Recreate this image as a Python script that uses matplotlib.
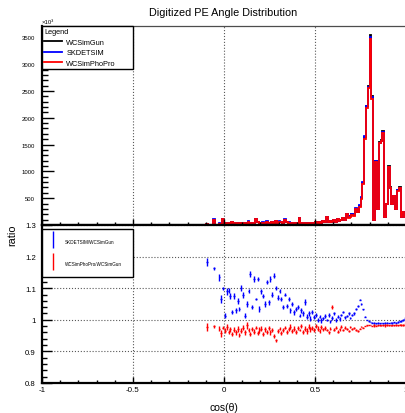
import numpy as np
import matplotlib.pyplot as plt
from matplotlib.ticker import MultipleLocator, FormatStrFormatter
from matplotlib.container import ErrorbarContainer
from matplotlib.legend_handler import HandlerErrorbar

plt.rcParams['font.family'] = ['Liberation Sans', 'DejaVu Sans']

nan = np.nan

# cos(theta) bins of 0.01 from -0.1 to 1.0 (everything below -0.1 is empty)
bin_lo = -0.1
bin_w = 0.01

# WCSimGun counts per bin (x10^3)
gun_counts = [
    15, 0, 0, 0, 90, 0, 0, 25, 15, 110,
    30, 20, 40, 25, 50, 30, 35, 20, 45, 30,
    25, 30, 20, 60, 35, 40, 30, 110, 50, 25,
    35, 45, 30, 60, 40, 30, 50, 45, 70, 40,
    60, 50, 40, 100, 55, 45, 35, 40, 30, 45,
    40, 130, 35, 40, 30, 25, 35, 30, 40, 45,
    50, 40, 60, 45, 80, 50, 150, 60, 70, 55,
    90, 60, 110, 70, 100, 130, 90, 205, 140, 160,
    200, 180, 300, 250, 350, 500, 780, 1640, 2220, 2594,
    3535, 2400, 100, 1200, 300, 1550, 1590, 1750, 150, 400,
    1100, 700, 400, 550, 300, 650, 700, 150, 250, 150,
]

# SKDETSIM / WCSimGun
ratio_sk = [
    1.182, nan, nan, nan, 1.163, nan, nan, 1.134, 1.066, 1.10,
    1.013, 1.09, 1.092, 1.076, 1.024, 1.076, 1.03, 1.06, 1.035, 1.10,
    1.08, 1.013, 1.05, 1.09, 1.145, 1.04, 1.13, 1.066, 1.13, 1.035,
    1.09, 1.076, 1.05, 1.12, 1.055, 1.13, 1.08, 1.14, 1.10, 1.07,
    1.09, 1.066, 1.04, 1.08, 1.045, 1.066, 1.03, 1.05, 1.024, 1.035,
    1.04, 1.013, 1.03, 1.02, 1.056, 1.01, 1.02, 1.003, 1.025, 1.01,
    1.015, 1.0, 1.01, 0.998, 1.005, 1.012, 1.0, 1.015, 0.995, 1.005,
    1.02, 1.0, 1.01, 1.003, 1.015, 1.025, 1.008, 1.012, 1.02, 1.005,
    1.015, 1.02, 1.034, 1.045, 1.064, 1.05, 1.034, 1.01, 1.0, 0.995,
    0.993, 0.991, 0.99, 0.989, 0.99, 0.989, 0.99, 0.989, 0.99, 0.991,
    0.99, 0.991, 0.99, 0.992, 0.991, 0.993, 0.995, 0.997, 1.0, 1.004,
]

# WCSimPhoPro / WCSimGun
ratio_pp = [
    0.977, nan, nan, nan, 0.98, nan, nan, 0.972, 0.958, 0.975,
    0.965, 0.978, 0.962, 0.97, 0.955, 0.968, 0.96, 0.972, 0.952, 0.965,
    0.975, 0.96, 0.982, 0.968, 0.955, 0.97, 0.962, 0.975, 0.958, 0.968,
    0.972, 0.955, 0.97, 0.962, 0.975, 0.96, 0.968, 0.95, 0.935, 0.965,
    0.972, 0.958, 0.968, 0.975, 0.962, 0.97, 0.978, 0.965, 0.972, 0.96,
    0.975, 0.968, 0.98, 0.962, 0.972, 0.965, 0.978, 0.97, 0.975, 0.968,
    0.98, 0.972, 0.965, 0.978, 0.97, 0.975, 0.968, 0.96, 0.972, 1.04,
    0.968, 0.975, 0.962, 0.97, 0.978, 0.968, 0.975, 0.972, 0.965, 0.978,
    0.97, 0.975, 0.968, 0.965, 0.972, 0.978, 0.975, 0.98, 0.982, 0.983,
    0.983, 0.98, 0.982, 0.981, 0.982, 0.983, 0.982, 0.983, 0.982, 0.983,
    0.982, 0.983, 0.982, 0.983, 0.984, 0.983, 0.984, 0.983, 0.984, 0.985,
]

gun = np.array(gun_counts, dtype=float)
r_sk = np.array(ratio_sk)
r_pp = np.array(ratio_pp)
edges = bin_lo + bin_w * np.arange(len(gun) + 1)
centers = edges[:-1] + bin_w / 2

sk = np.where(gun > 0, gun * np.nan_to_num(r_sk), 0)
pp = np.where(gun > 0, gun * np.nan_to_num(r_pp), 0)

# poisson errors on the ratios (counts are in thousands)
with np.errstate(divide='ignore', invalid='ignore'):
    err_sk = r_sk * np.sqrt(1 / (gun * 1e3) + 1 / (sk * 1e3))
    err_pp = r_pp * np.sqrt(1 / (gun * 1e3) + 1 / (pp * 1e3))

fig = plt.figure(figsize=(4.05, 4.14), dpi=100)
ax1 = fig.add_axes([42 / 405, 188 / 414, 364 / 405, 199 / 414])
ax2 = fig.add_axes([42 / 405, 30 / 414, 364 / 405, 158 / 414])

# top: histograms
ax1.stairs(gun, edges, color='black', lw=1.3, label='WCSimGun')
ax1.stairs(sk, edges, color='blue', lw=1.3, label='SKDETSIM')
ax1.stairs(pp, edges, color='red', lw=1.3, label='WCSimPhoPro')
ax1.set_xlim(-1, 1)
ax1.set_ylim(0, gun.max() * 1.05)
ax1.xaxis.set_major_locator(MultipleLocator(0.5))
ax1.xaxis.set_minor_locator(MultipleLocator(0.1))
ax1.set_yticks(range(500, 3501, 500))
ax1.yaxis.set_minor_locator(MultipleLocator(100))
ax1.tick_params(axis='x', which='both', direction='in', labelbottom=False)
ax1.tick_params(axis='x', which='major', length=4.3, width=1)
ax1.tick_params(axis='x', which='minor', length=2.2, width=1)
ax1.tick_params(axis='y', which='major', direction='in', length=8.5, width=1,
                labelsize=4.3, pad=5)
ax1.tick_params(axis='y', which='minor', direction='in', length=4.3, width=1)
ax1.grid(axis='x', which='major', ls=':', color='0.35', lw=0.8)
ax1.text(0, 1.008, '×10³', transform=ax1.transAxes, fontsize=4.3,
         ha='left', va='bottom')
ax1.spines['left'].set_linewidth(1.6)
ax1.spines['bottom'].set_linewidth(1.6)
ax1.spines['top'].set_linewidth(0.9)
ax1.spines['top'].set_color('0.3')
ax1.spines['right'].set_visible(False)
for sp in ax1.spines.values():
    sp.set_zorder(5)
leg1 = ax1.legend(title='Legend', loc='upper left', bbox_to_anchor=(0, 0, 0.25, 1),
                  mode='expand', borderaxespad=0, fontsize=5.3, title_fontsize=5.3,
                  alignment='left', fancybox=False, edgecolor='black', framealpha=1,
                  handlelength=2.4, handletextpad=0.6, borderpad=0.3, labelspacing=0.45)
leg1.get_frame().set_linewidth(1.0)

fig.text(0.551, 1 - 12.5 / 414, 'Digitized PE Angle Distribution', fontsize=7.8,
         ha='center', va='center')

# bottom: ratios
e_sk = ax2.errorbar(centers, r_sk, yerr=err_sk, xerr=bin_w / 2, fmt='none',
                    ecolor='blue', elinewidth=1, label='SKDETSIM/WCSimGun')
e_pp = ax2.errorbar(centers, r_pp, yerr=err_pp, xerr=bin_w / 2, fmt='none',
                    ecolor='red', elinewidth=1, label='WCSimPhoPro/WCSimGun')
ax2.set_xlim(-1, 1)
ax2.set_ylim(0.8, 1.3)
ax2.xaxis.set_major_locator(MultipleLocator(0.5))
ax2.xaxis.set_minor_locator(MultipleLocator(0.1))
ax2.yaxis.set_major_locator(MultipleLocator(0.1))
ax2.yaxis.set_minor_locator(MultipleLocator(0.02))
ax2.xaxis.set_major_formatter(FormatStrFormatter('%g'))
ax2.yaxis.set_major_formatter(FormatStrFormatter('%g'))
ax2.tick_params(axis='x', which='major', direction='in', length=4.3, width=1,
                labelsize=5.8, pad=2)
ax2.tick_params(axis='x', which='minor', direction='in', length=2.2, width=1)
ax2.tick_params(axis='y', which='major', direction='in', length=7.2, width=1,
                labelsize=5.6, pad=4.5)
ax2.tick_params(axis='y', which='minor', direction='in', length=3.6, width=1)
ax2.grid(True, which='major', ls=':', color='0.35', lw=0.8)
ax2.spines['left'].set_linewidth(1.6)
ax2.spines['bottom'].set_linewidth(1.6)
ax2.spines['top'].set_linewidth(1.6)
ax2.spines['right'].set_visible(False)
for sp in ax2.spines.values():
    sp.set_zorder(5)
ax2.set_ylabel('ratio', fontsize=7.8)
ax2.yaxis.set_label_coords(-0.069, 0.94)
ax2.set_xlabel('cos(θ)', fontsize=7.5)
ax2.xaxis.set_label_coords(0.5, -0.12)

leg2 = ax2.legend(handles=[e_sk, e_pp], loc='upper left',
                  bbox_to_anchor=(0, 0, 0.25, 0.975), mode='expand', borderaxespad=0,
                  fontsize=3.3, fancybox=False, edgecolor='black', framealpha=1,
                  handlelength=2.0, handleheight=3.7, handletextpad=1.5,
                  borderpad=1.5, labelspacing=2.2,
                  handler_map={ErrorbarContainer: HandlerErrorbar(xerr_size=0, yerr_size=1.85)})
leg2.get_frame().set_linewidth(1.0)

fig.savefig('out.png', dpi=100)
